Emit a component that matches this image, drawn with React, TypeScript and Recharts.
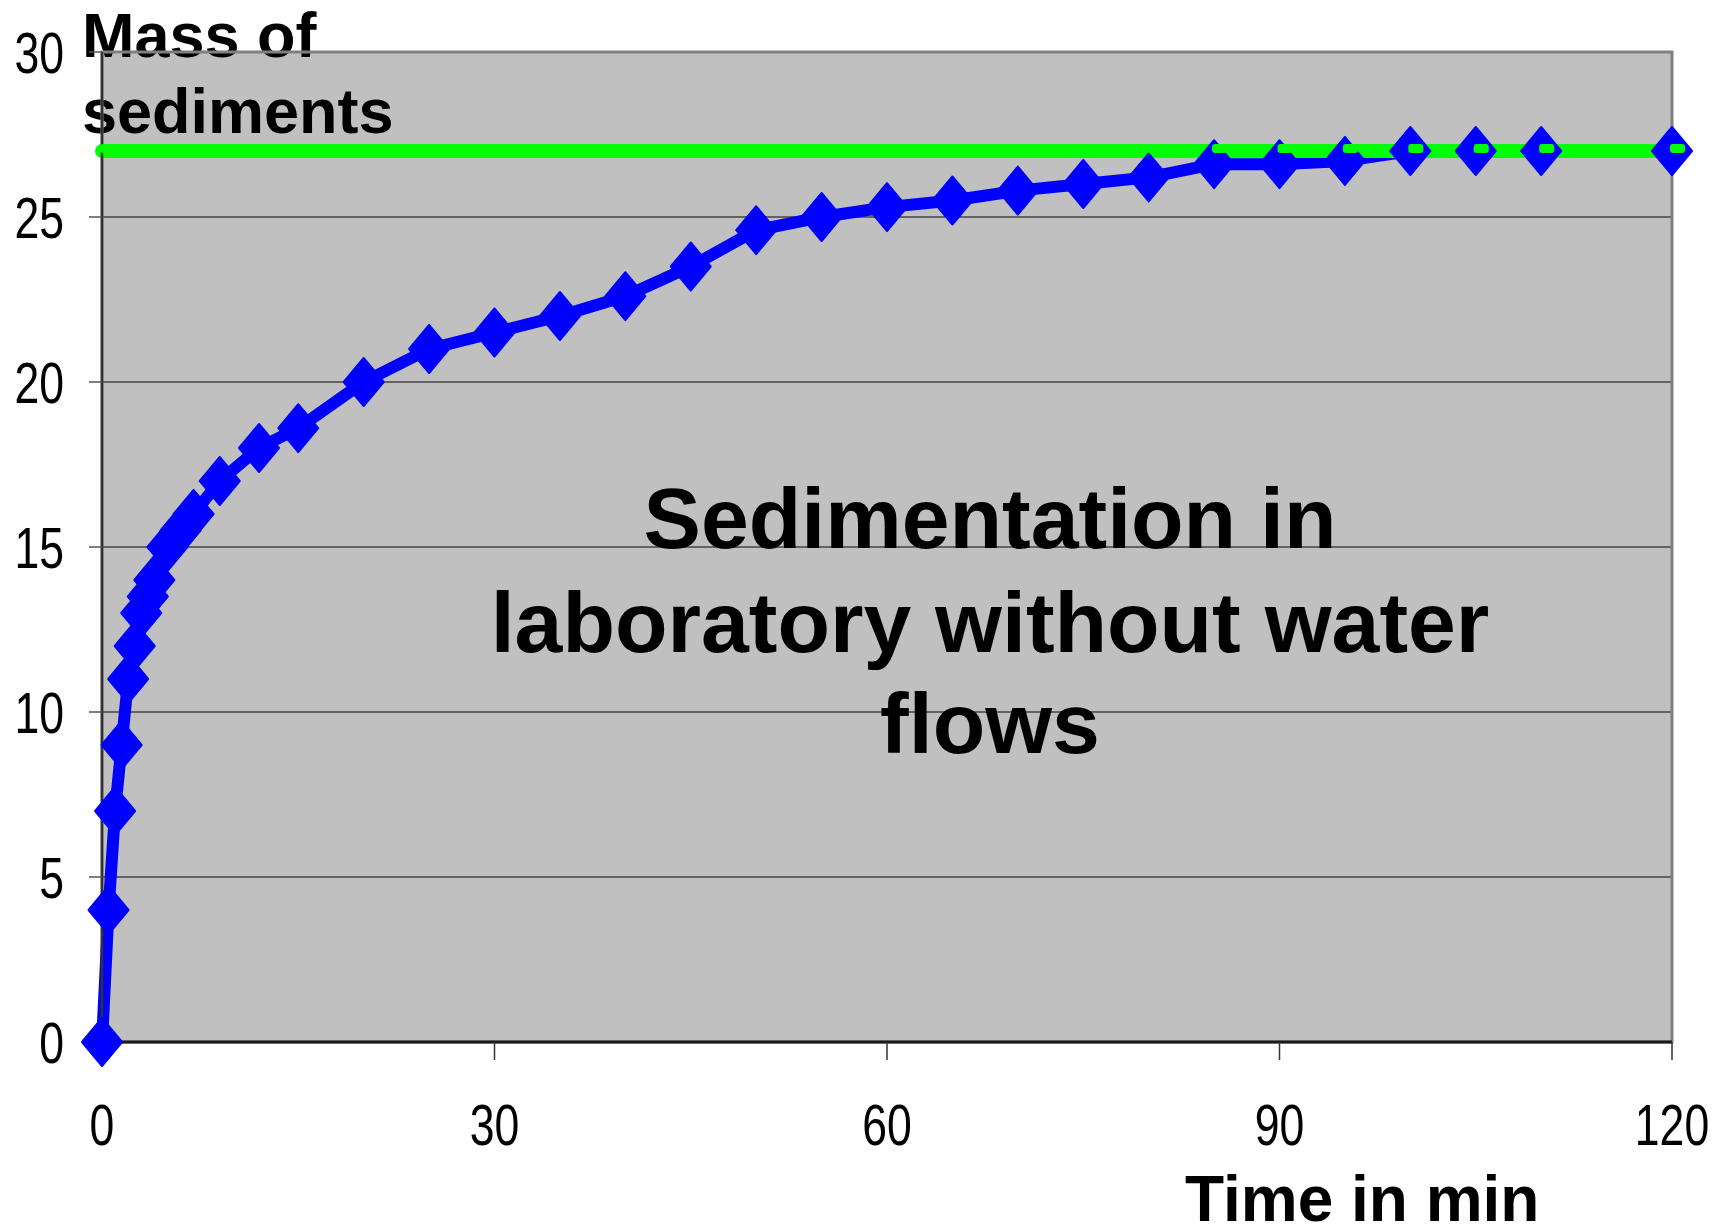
import React from 'react';
import { LineChart, Line, XAxis, YAxis, CartesianGrid, ReferenceArea, Customized } from 'recharts';

// ---- data ----
const timeMin = [0, 0.5, 1, 1.5, 2, 2.5, 3, 3.5, 4, 5, 6, 7, 9, 12, 15, 20, 25, 30, 35, 40, 45, 50, 55, 60, 65, 70, 75, 80, 85, 90, 95, 100, 105, 110, 120];
const massSediments = [0, 4, 7, 9, 11, 12, 13, 13.5, 14, 15, 15.5, 16, 17, 18, 18.6, 20, 21, 21.5, 22, 22.6, 23.5, 24.6, 25, 25.3, 25.5, 25.8, 26, 26.2, 26.6, 26.6, 26.7, 27, 27, 27, 27];
const totalMass = 27;
const xTicks = [0, 30, 60, 90, 120];
const yTicks = [0, 5, 10, 15, 20, 25, 30];
const yTitleLines = ['Mass of', 'sediments'];
const xTitle = 'Time in min';
const innerTitleLines = ['Sedimentation in', 'laboratory without water', 'flows'];

const data = timeMin.map((t, i) => ({ t, mass: massSediments[i], target: totalMass }));

const FONT = "'Liberation Sans', Arial, Helvetica, sans-serif";
const TICK_SIZE = 58;
const DIGIT_W = 24.8;

const XTick = (props: any) => {
  const { x, y, payload } = props;
  const s = String(payload.value);
  return (
    <text
      x={x}
      y={y + 41}
      textAnchor="middle"
      fontFamily={FONT}
      fontSize={TICK_SIZE}
      fill="#000"
      textLength={DIGIT_W * s.length}
      lengthAdjust="spacingAndGlyphs"
    >
      {s}
    </text>
  );
};

const YTick = (props: any) => {
  const { x, y, payload } = props;
  const s = String(payload.value);
  return (
    <text
      x={x - DIGIT_W * s.length}
      y={y + 21}
      textAnchor="start"
      fontFamily={FONT}
      fontSize={TICK_SIZE}
      fill="#000"
      textLength={DIGIT_W * s.length}
      lengthAdjust="spacingAndGlyphs"
    >
      {s}
    </text>
  );
};

const Diamond = (props: any) => {
  const { cx, cy, index } = props;
  if (cx == null || cy == null) return null;
  const w = 20, h = 24;
  return (
    <path
      key={`dm-${index}`}
      d={`M${cx},${cy - h} L${cx + w},${cy} L${cx},${cy + h} L${cx - w},${cy} Z`}
      fill="#0000FF"
      stroke="#0000FF"
      strokeWidth={2}
      strokeLinejoin="round"
    />
  );
};

const GreenDash = (props: any) => {
  const { cx, cy, index } = props;
  if (cx == null || cy == null) return null;
  return <rect key={`gd-${index}`} x={cx - 2} y={cy - 7} width={15} height={9} rx={3} fill="#00FF00" />;
};

const Texts = () => (
  <g>
    <text x={990} y={548} textAnchor="middle" fontFamily={FONT} fontWeight="bold" fontSize={86} fill="#000">
      {innerTitleLines[0]}
    </text>
    <text x={990} y={652} textAnchor="middle" fontFamily={FONT} fontWeight="bold" fontSize={86} fill="#000">
      {innerTitleLines[1]}
    </text>
    <text x={990} y={753} textAnchor="middle" fontFamily={FONT} fontWeight="bold" fontSize={86} fill="#000">
      {innerTitleLines[2]}
    </text>
  </g>
);

const AxisTitles = () => (
  <g>
    <text x={82} y={57} fontFamily={FONT} fontWeight="bold" fontSize={63} fill="#000">{yTitleLines[0]}</text>
    <text x={82} y={133} fontFamily={FONT} fontWeight="bold" fontSize={63} fill="#000">{yTitleLines[1]}</text>
    <text x={1185} y={1221} fontFamily={FONT} fontWeight="bold" fontSize={64} fill="#000">{xTitle}</text>
  </g>
);

export default function App() {
  return (
    <div style={{ position: 'absolute', left: 0, top: 0, width: 1720, height: 1228, background: '#fff' }}>
      <LineChart width={1720} height={1228} data={data} margin={{ top: 52, right: 48, bottom: 0, left: 0 }}>
        <CartesianGrid fill="#C0C0C0" vertical={false} stroke="#444" strokeWidth={1.5} horizontalValues={yTicks} />
        <ReferenceArea x1={0} x2={120} y1={0} y2={30} fill="none" stroke="#808080" strokeWidth={3} />
        <XAxis
          dataKey="t"
          type="number"
          domain={[0, 120]}
          ticks={xTicks}
          interval={0}
          height={186}
          tickSize={18}
          tickMargin={44}
          axisLine={{ stroke: '#1a1a1a', strokeWidth: 3 }}
          tickLine={{ stroke: '#333', strokeWidth: 1.5 }}
          tick={<XTick />}
        />
        <YAxis
          type="number"
          domain={[0, 30]}
          ticks={yTicks}
          interval={0}
          width={102}
          tickSize={13}
          tickMargin={25}
          axisLine={{ stroke: '#333', strokeWidth: 2.5 }}
          tickLine={{ stroke: '#555', strokeWidth: 1.5 }}
          tick={<YTick />}
        />
        <Customized component={Texts} />
        <Line dataKey="mass" stroke="#0000FF" strokeWidth={12} strokeLinejoin="round" dot={false} activeDot={false} isAnimationActive={false} />
        <Line dataKey="target" stroke="#00FF00" strokeWidth={14} strokeLinecap="round" dot={false} activeDot={false} isAnimationActive={false} />
        <Line dataKey="mass" stroke="none" dot={<Diamond />} activeDot={false} isAnimationActive={false} />
        <Line dataKey="target" stroke="none" dot={<GreenDash />} activeDot={false} isAnimationActive={false} />
        <Customized component={AxisTitles} />
      </LineChart>
    </div>
  );
}
